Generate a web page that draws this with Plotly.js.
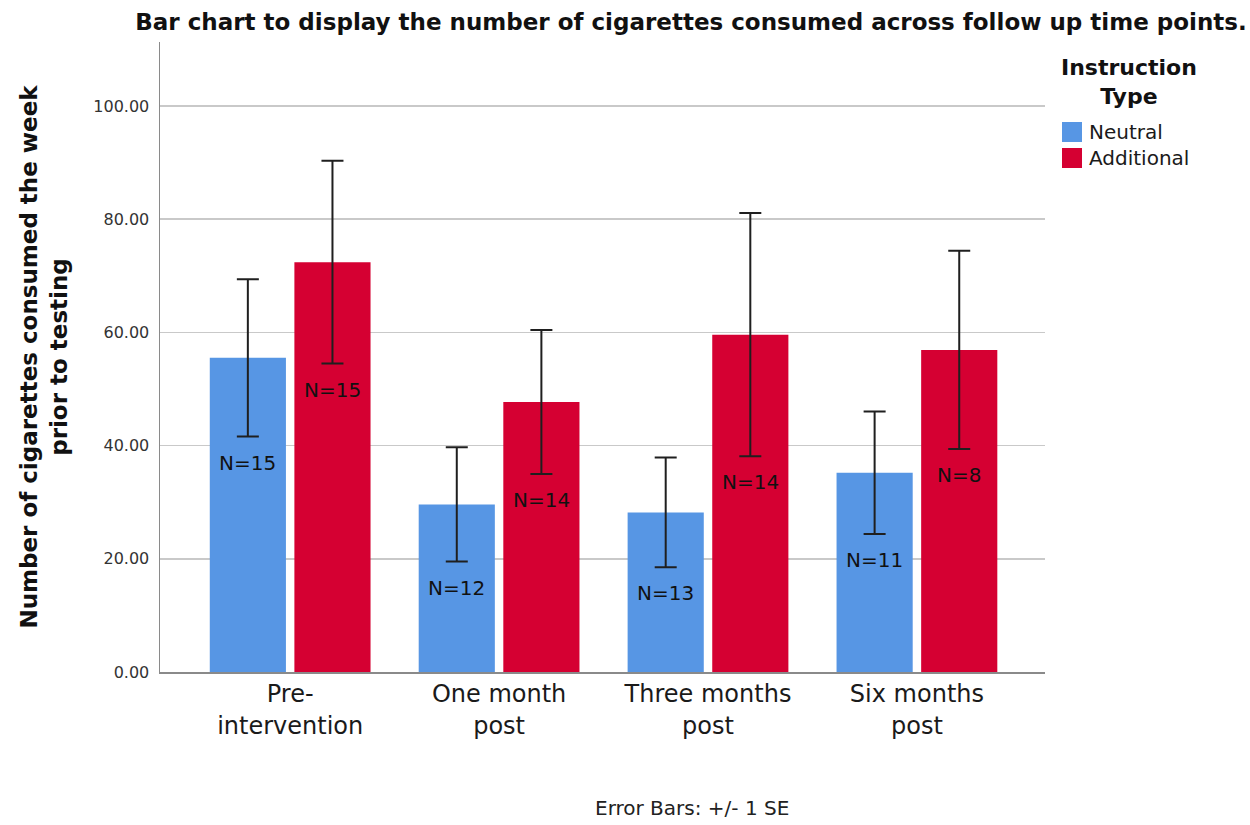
<!DOCTYPE html>
<html>
<head>
<meta charset="utf-8">
<script src="https://cdn.plot.ly/plotly-3.0.1.min.js"></script>
<style>
  html, body { margin: 0; padding: 0; background: #ffffff; }
  #chart { width: 1250px; height: 825px; }
</style>
</head>
<body>
<div id="chart"></div>
<script>
// Follow-up time points
const categories = ["Pre-<br>intervention", "One month<br>post", "Three months<br>post", "Six months<br>post"];

// Neutral instruction group: mean cigarettes, standard error, sample size
const neutralMean = [55.5, 29.6, 28.2, 35.2];
const neutralSE = [13.9, 10.1, 9.7, 10.8];
const neutralN = [15, 12, 13, 11];

// Additional instruction group
const additionalMean = [72.4, 47.7, 59.6, 56.9];
const additionalSE = [17.9, 12.7, 21.5, 17.5];
const additionalN = [15, 14, 14, 8];

const yTicks = [0, 20, 40, 60, 80, 100];
const yTickText = ["0.00", "20.00", "40.00", "60.00", "80.00", "100.00"];

const seriesNames = ["Neutral", "Additional"];
const seriesColors = ["#5796e4", "#d50032"];

const FONT = "DejaVu Sans, Verdana, sans-serif";
const W = 1250, H = 825;
const margin = { l: 160, r: 205, t: 42, b: 153, pad: 0 };
const xRange = [-0.623, 3.613];
const yRange = [0, 111.3];
const bargap = 0.19;
const bargroupgap = 0.1;

const errStyle = { type: "data", visible: true, color: "#1f1f1f", thickness: 2, width: 11 };

const traces = [
  {
    type: "bar", name: seriesNames[0], x: categories, y: neutralMean,
    marker: { color: seriesColors[0] },
    error_y: Object.assign({ array: neutralSE }, errStyle),
    hoverinfo: "skip"
  },
  {
    type: "bar", name: seriesNames[1], x: categories, y: additionalMean,
    marker: { color: seriesColors[1] },
    error_y: Object.assign({ array: additionalSE }, errStyle),
    hoverinfo: "skip"
  }
];

// Horizontal offset of each bar centre from its category centre, in px
const plotW = W - margin.l - margin.r;
const pxPerCat = plotW / (xRange[1] - xRange[0]);
const barOffset = (1 - bargap) / 4 * pxPerCat;

const annotations = [];
function addCounts(means, ses, ns, sign) {
  categories.forEach((c, i) => {
    annotations.push({
      x: c, y: means[i] - ses[i], xref: "x", yref: "y",
      xshift: sign * barOffset, yshift: -26,
      yanchor: "middle", xanchor: "center",
      text: "N=" + ns[i], showarrow: false,
      font: { family: FONT, size: 20, color: "#111111" }
    });
  });
}
addCounts(neutralMean, neutralSE, neutralN, -1);
addCounts(additionalMean, additionalSE, additionalN, 1);

// Pixel helpers for paper-positioned legend and footnote
const plotH = H - margin.t - margin.b;
const px = v => (v - margin.l) / plotW;
const py = v => (H - margin.b - v) / plotH;

// Legend block
annotations.push({
  xref: "paper", yref: "paper", x: px(1129), y: py(82),
  xanchor: "center", yanchor: "middle", showarrow: false,
  text: "<b>Instruction<br>Type</b>", align: "center",
  font: { family: FONT, size: 22, color: "#111111" }
});
const shapes = [];
const legendRows = [132, 158];
seriesNames.forEach((name, i) => {
  const cy = legendRows[i];
  shapes.push({
    type: "rect", xref: "paper", yref: "paper",
    x0: px(1062), x1: px(1082), y0: py(cy + 10), y1: py(cy - 10),
    fillcolor: seriesColors[i], line: { width: 0 }
  });
  annotations.push({
    xref: "paper", yref: "paper", x: px(1087), y: py(cy),
    xanchor: "left", yanchor: "middle", showarrow: false,
    text: name, font: { family: FONT, size: 20, color: "#1a1a1a" }
  });
});

// Footnote
annotations.push({
  xref: "paper", yref: "paper", x: px(692), y: py(808),
  xanchor: "center", yanchor: "middle", showarrow: false,
  text: "Error Bars: +/- 1 SE",
  font: { family: FONT, size: 20, color: "#222222" }
});

const layout = {
  width: W, height: H,
  margin: margin,
  paper_bgcolor: "#ffffff", plot_bgcolor: "#ffffff",
  font: { family: FONT, color: "#1a1a1a" },
  showlegend: false,
  barmode: "group", bargap: bargap, bargroupgap: bargroupgap,
  title: {
    text: "<b>Bar chart to display the number of cigarettes consumed across follow up time points.</b>",
    xref: "container", yref: "container",
    x: 691 / W, y: 1 - 22 / H, xanchor: "center", yanchor: "middle",
    font: { family: FONT, size: 23, color: "#111111" }
  },
  xaxis: {
    type: "category", range: xRange, fixedrange: true,
    showgrid: false, zeroline: false,
    showline: true, linecolor: "#8a8a8a", linewidth: 1.5,
    ticks: "", ticklen: 0,
    tickfont: { family: FONT, size: 24, color: "#1a1a1a" }
  },
  yaxis: {
    range: yRange, fixedrange: true,
    tickvals: yTicks, ticktext: yTickText,
    showgrid: true, gridcolor: "#c9c9c9", gridwidth: 1.5,
    zeroline: false,
    showline: true, linecolor: "#8a8a8a", linewidth: 1.5,
    ticks: "", ticklen: 0, ticklabelstandoff: 6,
    tickfont: { family: FONT, size: 16, color: "#333333" },
    title: {
      text: "<b>Number of cigarettes consumed the week<br>prior to testing</b>",
      standoff: 19,
      font: { family: FONT, size: 23, color: "#111111" }
    }
  },
  annotations: annotations,
  shapes: shapes
};

Plotly.newPlot("chart", traces, layout, { displayModeBar: false, staticPlot: true });
</script>
</body>
</html>
